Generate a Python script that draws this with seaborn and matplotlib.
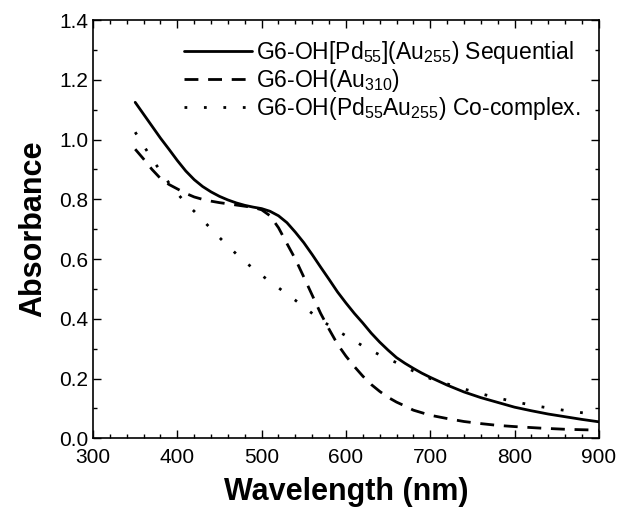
import matplotlib
matplotlib.use("Agg")
import matplotlib.pyplot as plt
import seaborn as sns
from matplotlib.ticker import MultipleLocator, FormatStrFormatter

# Data
wl_seq = [350, 360, 370, 380, 390, 400, 410, 420, 430, 440, 450, 460, 470, 480, 490, 500,
          510, 520, 530, 540, 550, 560, 570, 580, 590, 600, 610, 620, 630, 640, 650, 660,
          670, 680, 690, 700, 720, 740, 760, 780, 800, 820, 840, 860, 880, 900]
abs_seq = [1.125, 1.085, 1.045, 1.005, 0.968, 0.93, 0.895, 0.866, 0.843, 0.825, 0.81, 0.798,
           0.788, 0.78, 0.774, 0.769, 0.76, 0.745, 0.722, 0.69, 0.655, 0.615, 0.573, 0.532,
           0.49, 0.453, 0.418, 0.386, 0.352, 0.322, 0.295, 0.27, 0.251, 0.234, 0.218, 0.204,
           0.178, 0.155, 0.136, 0.12, 0.104, 0.092, 0.081, 0.072, 0.063, 0.055]

wl_au = [350, 360, 370, 380, 390, 400, 410, 420, 430, 440, 450, 460, 470, 480, 490, 500,
         510, 520, 530, 540, 550, 560, 570, 580, 590, 600, 610, 620, 630, 640, 650, 660,
         670, 680, 700, 720, 740, 760, 780, 800, 830, 860, 900]
abs_au = [0.968, 0.935, 0.9, 0.87, 0.85, 0.835, 0.82, 0.808, 0.8, 0.794, 0.789, 0.785, 0.781,
          0.777, 0.773, 0.765, 0.745, 0.705, 0.652, 0.6, 0.54, 0.479, 0.418, 0.365, 0.315,
          0.275, 0.24, 0.208, 0.18, 0.157, 0.137, 0.121, 0.108, 0.094, 0.077, 0.066, 0.056,
          0.049, 0.043, 0.039, 0.034, 0.03, 0.027]

wl_co = [350, 360, 370, 380, 390, 400, 410, 420, 430, 440, 450, 460, 470, 480, 490, 500,
         510, 520, 530, 540, 550, 560, 570, 580, 590, 600, 620, 640, 660, 680, 700, 720,
         740, 760, 780, 800, 830, 860, 900]
abs_co = [1.025, 0.98, 0.935, 0.895, 0.855, 0.82, 0.787, 0.76, 0.731, 0.701, 0.672, 0.644,
          0.617, 0.592, 0.568, 0.546, 0.524, 0.504, 0.482, 0.462, 0.44, 0.418, 0.396, 0.378,
          0.36, 0.343, 0.309, 0.279, 0.253, 0.225, 0.2, 0.182, 0.165, 0.149, 0.135, 0.122,
          0.106, 0.093, 0.078]

labels = [r"G6-OH[Pd$_{55}$](Au$_{255}$) Sequential",
          r"G6-OH(Au$_{310}$)",
          r"G6-OH(Pd$_{55}$Au$_{255}$) Co-complex."]

sns.set_theme(style="ticks")
plt.rcParams['font.family'] = ['Liberation Sans', 'DejaVu Sans']
plt.rcParams['mathtext.fontset'] = 'custom'
plt.rcParams['mathtext.rm'] = 'Liberation Sans'
plt.rcParams['mathtext.it'] = 'Liberation Sans'
for k in ['text.color', 'axes.labelcolor', 'xtick.color', 'ytick.color', 'axes.edgecolor']:
    plt.rcParams[k] = 'black'

fig = plt.figure(figsize=(6.33, 5.18), dpi=100)
ax = fig.add_axes([0.147, 0.154, 0.799, 0.807])

sns.lineplot(x=wl_seq, y=abs_seq, ax=ax, color='black', lw=2.0, label=labels[0])
sns.lineplot(x=wl_au, y=abs_au, ax=ax, color='black', lw=2.0, label=labels[1])
sns.lineplot(x=wl_co, y=abs_co, ax=ax, color='black', lw=2.0, label=labels[2])
lines = ax.get_lines()
lines[1].set_dashes([5, 3.5])
lines[2].set_dashes([1, 6])

ax.set_xlim(300, 900)
ax.set_ylim(0, 1.4)
ax.xaxis.set_major_locator(MultipleLocator(100))
ax.xaxis.set_minor_locator(MultipleLocator(20))
ax.yaxis.set_major_locator(MultipleLocator(0.2))
ax.yaxis.set_minor_locator(MultipleLocator(0.1))
ax.yaxis.set_major_formatter(FormatStrFormatter('%.1f'))
ax.tick_params(which='both', direction='in', top=True, right=True, labelsize=15)
ax.tick_params(which='major', length=6, width=1)
ax.tick_params(which='minor', length=3, width=1)
ax.tick_params(axis='x', pad=7)
for s in ax.spines.values():
    s.set_linewidth(1.2)

ax.set_xlabel("Wavelength (nm)", fontsize=22, fontweight='bold', labelpad=7)
ax.set_ylabel("Absorbance", fontsize=22, fontweight='bold', labelpad=8)

leg = ax.legend(loc='upper right', frameon=False, fontsize=16.5, handlelength=3.0,
                handletextpad=0.15, labelspacing=0.05, borderaxespad=0.4)

fig.savefig("out.png", dpi=100)
